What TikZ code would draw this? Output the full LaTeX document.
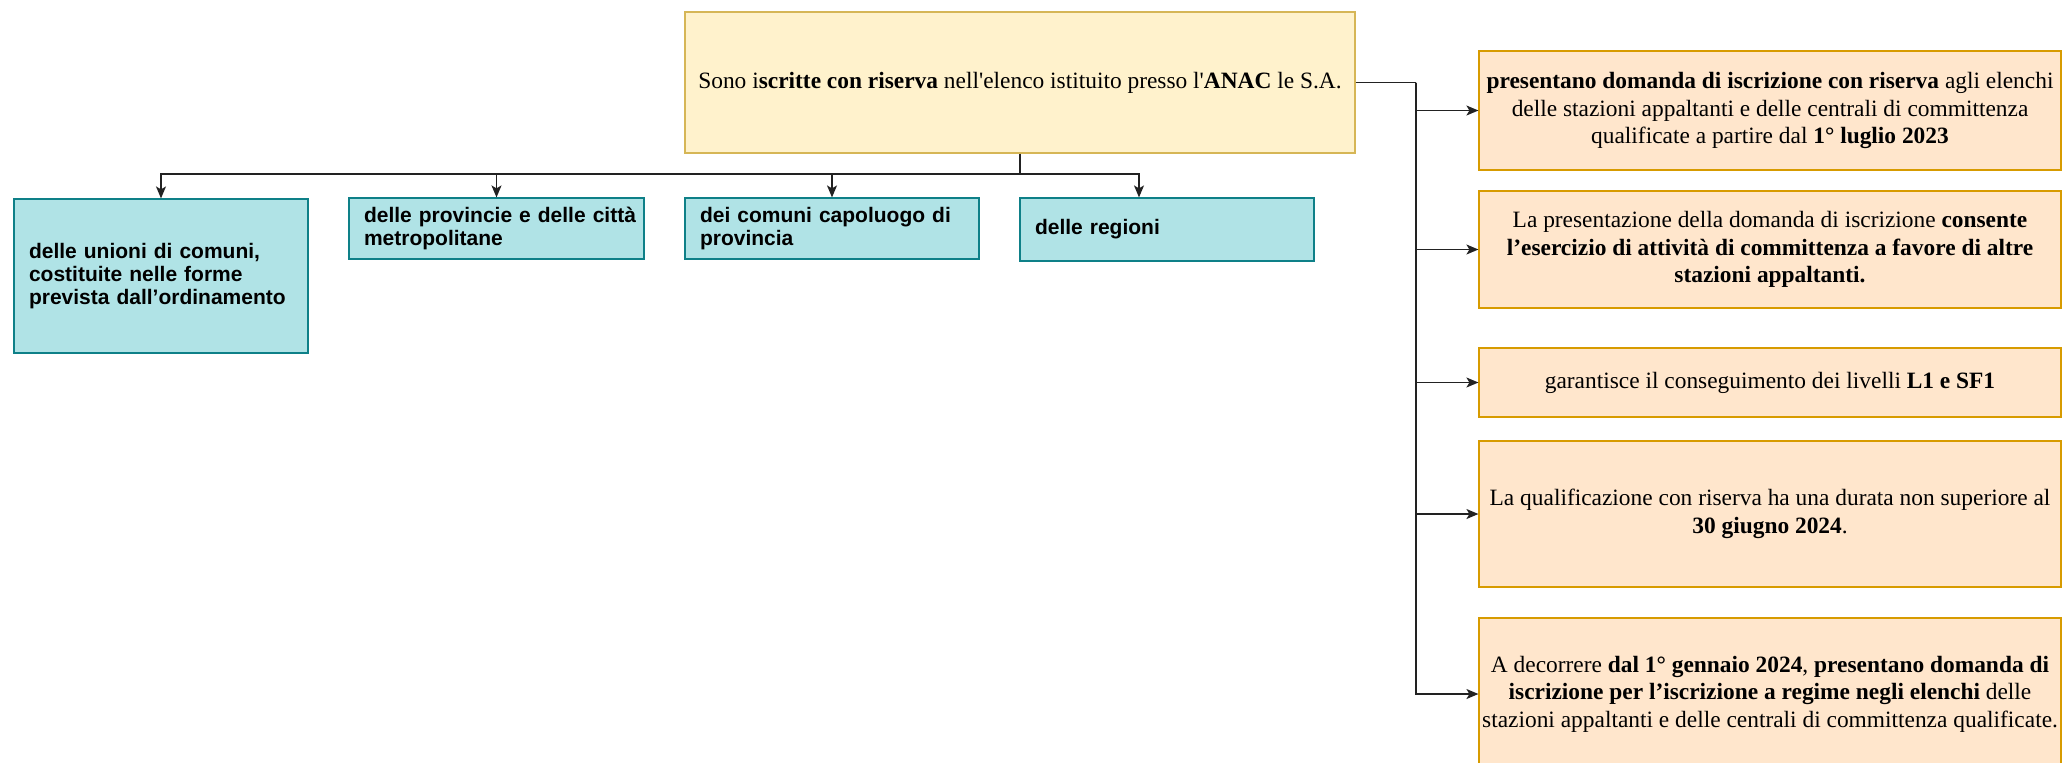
\documentclass[tikz,border=0pt]{standalone}
\usepackage{fontspec}
\setmainfont{Liberation Serif}[Ligatures=TeXOff]
\setsansfont{Liberation Sans}[Ligatures=TeXOff]
\usetikzlibrary{arrows.meta}
\definecolor{yfill}{HTML}{FFF2CC}
\definecolor{ydraw}{HTML}{D6B656}
\definecolor{tfill}{HTML}{B0E3E6}
\definecolor{tdraw}{HTML}{0E8088}
\definecolor{ofill}{HTML}{FFE6CC}
\definecolor{odraw}{HTML}{D79B00}
\definecolor{lcol}{HTML}{222222}
\tikzset{
  basebox/.style={draw, rectangle, inner sep=0pt, line width=0.6pt},
  ybox/.style={basebox, fill=yfill, draw=ydraw, align=center,
    font=\fontsize{11.7}{13.8}\selectfont},
  tbox/.style={basebox, fill=tfill, draw=tdraw, align=left, inner xsep=7.5pt,
    font=\sffamily\bfseries\fontsize{10.5}{11.7}\selectfont},
  obox/.style={basebox, fill=ofill, draw=odraw, align=center,
    font=\fontsize{11.7}{13.8}\selectfont},
  conn/.style={draw=lcol, line width=0.7pt, -{Stealth[length=6pt,width=5pt,inset=1.5pt]}},
  plainconn/.style={draw=lcol, line width=0.7pt}
}
\begin{document}
\begin{tikzpicture}[x=0.5pt, y=-0.5pt]
\clip (0,0) rectangle (2065,762);
\fill[white] (0,0) rectangle (2065,762);

\node[ybox, minimum width=335pt, minimum height=70.5pt] (top) at (1020,82.5)
  {Sono i\textbf{scritte con riserva} nell'elenco istituito presso l'\textbf{ANAC} le S.A.};

\node[tbox, minimum width=147pt, minimum height=77pt, text width=132pt] (t1) at (161,276)
  {\mbox{delle unioni di comuni,}\\ \mbox{costituite nelle forme}\\ \mbox{prevista dall’ordinamento}};
\node[tbox, minimum width=147.5pt, minimum height=30.5pt, text width=132.5pt] (t2) at (496.5,228.5)
  {\mbox{delle provincie e delle città}\\ \mbox{metropolitane}};
\node[tbox, minimum width=147pt, minimum height=30.5pt, text width=132pt] (t3) at (832,228.5)
  {\mbox{dei comuni capoluogo di}\\ \mbox{provincia}};
\node[tbox, minimum width=147pt, minimum height=31.5pt, text width=132pt] (t4) at (1167,229.5)
  {\mbox{delle regioni}};

\node[obox, minimum width=291pt, minimum height=59.5pt] (o1) at (1770,110.5)
  {\textbf{presentano domanda di iscrizione con riserva} agli elenchi\\
   delle stazioni appaltanti e delle centrali di committenza\\
   qualificate a partire dal \textbf{1° luglio 2023}};
\node[obox, minimum width=291pt, minimum height=58.5pt] (o2) at (1770,249.5)
  {La presentazione della domanda di iscrizione \textbf{consente}\\
   \textbf{l’esercizio di attività di committenza a favore di altre}\\
   \textbf{stazioni appaltanti.}};
\node[obox, minimum width=291pt, minimum height=34.5pt] (o3) at (1770,382.5)
  {garantisce il conseguimento dei livelli \textbf{L1 e SF1}};
\node[obox, minimum width=291pt, minimum height=73pt] (o4) at (1770,514)
  {La qualificazione con riserva ha una durata non superiore al\\
   \textbf{30 giugno 2024}.};
\node[obox, minimum width=291pt, minimum height=76pt] (o5) at (1770,694)
  {A decorrere \textbf{dal 1° gennaio 2024}, \textbf{presentano domanda di}\\
   \textbf{iscrizione per l’iscrizione a regime negli elenchi} delle\\
   stazioni appaltanti e delle centrali di committenza qualificate.};

\coordinate (bus) at (1020,174);
\coordinate (trunk) at (1416,82.5);

\draw[plainconn] (top.south) -- (bus);
\draw[conn] (bus) -| (t1.north);
\draw[conn] (bus) -| (t2.north);
\draw[conn] (bus) -| (t3.north);
\draw[conn] (bus) -| ([xshift=-14pt]t4.north);

\draw[plainconn] (top.east) -- (trunk);
\draw[conn] (trunk) |- (o1.west);
\draw[conn] (trunk) |- (o2.west);
\draw[conn] (trunk) |- (o3.west);
\draw[conn] (trunk) |- (o4.west);
\draw[conn] (trunk) |- (o5.west);
\end{tikzpicture}
\end{document}
